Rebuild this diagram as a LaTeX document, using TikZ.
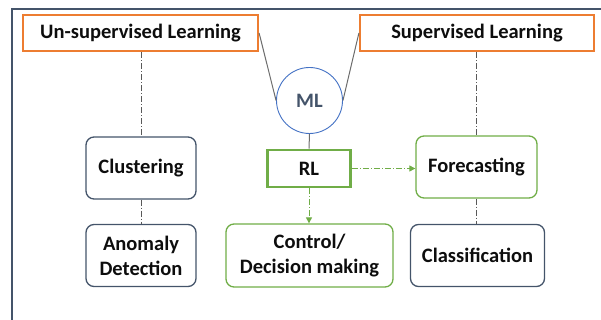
\documentclass[tikz,border=0pt]{standalone}
\usepackage{fontspec}
\setmainfont{Carlito}[BoldFont={Carlito Bold}]
\usetikzlibrary{arrows.meta}
\definecolor{slate}{HTML}{44546A}
\definecolor{orng}{HTML}{ED7D31}
\definecolor{grn}{HTML}{70AD47}
\definecolor{blu}{HTML}{4472C4}
\definecolor{txt}{HTML}{0D0D0D}
\tikzset{
  lbl/.style={font=\bfseries\fontsize{20.5}{25}\selectfont, text=txt, align=center, inner sep=0pt},
  catbox/.style={lbl, draw=orng, line width=2.2pt, minimum height=36pt},
  slatebox/.style={lbl, draw=slate, line width=1.3pt, rounded corners=8pt},
  greenbox/.style={lbl, draw=grn, line width=1.3pt, rounded corners=8pt},
  rlbox/.style={lbl, draw=grn, line width=2.8pt},
  link/.style={draw=gray!85!black, line width=1pt},
  dotlink/.style={draw=gray!70!black, line width=0.8pt, dash pattern=on 6pt off 2pt on 1pt off 2pt},
  rlarrow/.style={draw=grn, line width=1pt, dash pattern=on 6pt off 2pt on 1pt off 2pt, -{Triangle[length=6pt,width=6pt]}}
}
\begin{document}
\begin{tikzpicture}[x=1pt,y=-1pt]
\useasboundingbox (0,0) rectangle (601,320);
% frame edges
\draw[slate, line width=1.4pt] (12,320) -- (12,9) -- (601,9);

% top categories
\node[catbox, minimum width=235pt] (unsup) at (140.5,33) {Un-supervised Learning};
\node[catbox, minimum width=234pt] (sup) at (477,33) {Supervised Learning};

% ML hub
\node[draw=blu, line width=0.9pt, circle, minimum size=66pt, inner sep=0pt,
      font=\bfseries\fontsize{20.5}{25}\selectfont, text=slate] (ml) at (309.5,100.5) {ML};

\node[rlbox, minimum width=83pt, minimum height=37pt] (rl) at (309,168.5) {RL};

% leaf boxes
\node[slatebox, minimum width=110pt, minimum height=62pt] (clu) at (141,168) {Clustering};
\node[slatebox, minimum width=110pt, minimum height=62pt] (ano) at (141,255.5) {Anomaly\\Detection};
\node[greenbox, minimum width=121pt, minimum height=62pt] (fore) at (476.5,167) {Forecasting};
\node[slatebox, minimum width=134pt, minimum height=62pt] (cls) at (477.5,255.5) {Classification};
\node[greenbox, minimum width=167pt, minimum height=63pt] (ctl) at (309.5,255.5) {Control/\\Decision making};

% links to the hub
\draw[link] (unsup.east) -- (ml.west);
\draw[link] (sup.west) -- (ml.east);
\draw[link] (ml.south) -- (rl.north);

% category branches
\draw[dotlink] (unsup.south -| clu.north) -- (clu.north);
\draw[dotlink] (clu.south) -- (ano.north);
\draw[dotlink] (sup.south -| fore.north) -- (fore.north);
\draw[dotlink] (fore.south) -- (fore.south |- cls.north);

% RL outputs
\draw[rlarrow] (rl.east) -- (rl.east -| fore.west);
\draw[rlarrow] (rl.south) -- (rl.south |- ctl.north);
\end{tikzpicture}
\end{document}
